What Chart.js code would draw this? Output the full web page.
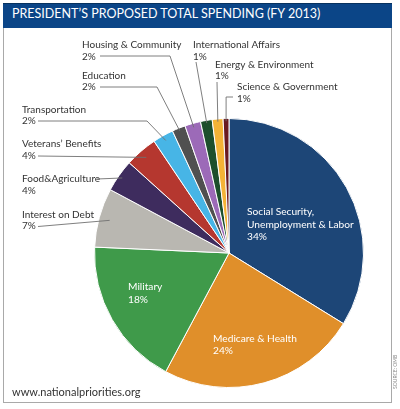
<!DOCTYPE html>
<html>
<head>
<meta charset="utf-8">
<script src="https://cdn.jsdelivr.net/npm/chart.js@4.4.1/dist/chart.umd.min.js"></script>
<style>
    body { margin: 0; background: #fff; font-family: Lato, "Open Sans", sans-serif; }
    #quadro { position: relative; width: 400px; height: 409px; overflow: hidden; }
    #barra {
        position: absolute; left: 3px; top: 3px; width: 389px; height: 25px;
        background: #0b4587; border-top: 1px solid #07325f; box-sizing: border-box;
    }
    #titulo {
        position: absolute; left: 12px; top: 5px; color: #fff;
        font-size: 12.5px; line-height: 18px; white-space: nowrap;
    }
    #moldura {
        position: absolute; left: 3px; top: 28px; width: 389px; height: 375px;
        border: 1.5px solid #a9a9a9; border-top: none; box-sizing: border-box;
    }
    #site {
        position: absolute; left: 12px; top: 385px; color: #333;
        font-size: 11px; line-height: 13px; white-space: nowrap;
    }
    #fonte {
        position: absolute; left: 381px; top: 372px; width: 28px; height: 6px;
        color: #8a8a8a; font-size: 5px; line-height: 6px; white-space: nowrap;
        text-align: center; transform: rotate(-90deg);
    }
    #grafico { position: absolute; left: 0; top: 0; }
</style>
</head>
<body>
<div id="quadro">
    <div id="moldura"></div>
    <div id="barra"></div>
    <div id="titulo">PRESIDENT’S PROPOSED TOTAL SPENDING (FY 2013)</div>
    <canvas id="grafico" width="400" height="409"></canvas>
    <div id="site">www.nationalpriorities.org</div>
    <div id="fonte">SOURCE: OMB</div>
</div>

<script>
// Dados (sentido horário a partir do topo)
var categorias = [
    "Social Security,\nUnemployment & Labor",
    "Medicare & Health",
    "Military",
    "Interest on Debt",
    "Food&Agriculture",
    "Veterans’ Benefits",
    "Transportation",
    "Education",
    "Housing & Community",
    "International Affairs",
    "Energy & Environment",
    "Science & Government"
];
var valores = [33.8, 24.0, 17.9, 7.1, 3.9, 3.9, 2.5, 1.6, 1.9, 1.4, 1.3, 0.7];
var percentuais = ["34%", "24%", "18%", "7%", "4%", "4%", "2%", "2%", "2%", "1%", "1%", "1%"];

var cores = [
    "#1d4677", "#e08f2a", "#3f9a4a", "#b9b7b1", "#3e2c5e", "#b5372f",
    "#47b5e6", "#505050", "#9c6ab8", "#1d4f2c", "#f4b336", "#6a1a20"
];

// Posição dos rótulos externos e das linhas-guia
// x,y = primeira linha do texto; lx,ly = início da linha; cx = cotovelo; f = fração do raio
var externos = [
    { i: 3,  x: 22,  y: 217.7, lx: 38,  ly: 226.5, f: 0.92 },
    { i: 4,  x: 22,  y: 182.3, lx: 97,  ly: 179,   f: 0.97 },
    { i: 5,  x: 22,  y: 147.3, lx: 38,  ly: 156,   f: 0.94 },
    { i: 6,  x: 22,  y: 112.7, lx: 38,  ly: 121,   cx: 147, f: 0.96 },
    { i: 7,  x: 82,  y: 78.5,  lx: 100, ly: 87,    cx: 157, f: 0.98 },
    { i: 8,  x: 82,  y: 48.3,  lx: 100, ly: 56,    cx: 170, f: 0.97 },
    { i: 9,  x: 193, y: 48.3,  lx: 196, ly: 62,    f: 0.98 },
    { i: 10, x: 215, y: 67.7,  lx: 217, ly: 82,    f: 0.98 },
    { i: 11, x: 237, y: 90.3,  lx: 233, ly: 97,    canto: true, f: 0.98 }
];
var internos = [
    { i: 0, x: 247, y: 215 },
    { i: 1, x: 213, y: 341.7 },
    { i: 2, x: 128, y: 290 }
];

var rotulosPlugin = {
    id: "rotulos",
    afterDatasetsDraw: function (chart) {
        var ctx = chart.ctx;
        var arcos = chart.getDatasetMeta(0).data;
        ctx.save();
        ctx.textBaseline = "alphabetic";
        ctx.textAlign = "left";

        externos.forEach(function (r) {
            var a = arcos[r.i];
            var meio = (a.startAngle + a.endAngle) / 2;
            var raio = a.outerRadius * r.f;
            var px = a.x + Math.cos(meio) * raio;
            var py = a.y + Math.sin(meio) * raio;

            ctx.strokeStyle = "#707070";
            ctx.lineWidth = 0.9;
            ctx.beginPath();
            ctx.moveTo(r.lx, r.ly);
            if (r.cx !== undefined) ctx.lineTo(r.cx, r.ly);
            if (r.canto) ctx.lineTo(px, r.ly);
            ctx.lineTo(px, py);
            ctx.stroke();

            ctx.font = "10px Lato";
            ctx.fillStyle = "#333";
            ctx.fillText(categorias[r.i], r.x, r.y);
            ctx.fillText(percentuais[r.i], r.x, r.y + 11.7);
        });

        ctx.font = "10.2px Lato";
        ctx.fillStyle = "#fff";
        internos.forEach(function (r) {
            var linhas = categorias[r.i].split("\n");
            linhas.push(percentuais[r.i]);
            linhas.forEach(function (t, k) {
                ctx.fillText(t, r.x, r.y + k * 12.5);
            });
        });
        ctx.restore();
    }
};

new Chart(document.getElementById("grafico"), {
    type: "pie",
    data: {
        labels: categorias,
        datasets: [{
            data: valores,
            backgroundColor: cores,
            borderColor: "#ffffff",
            borderWidth: 1
        }]
    },
    options: {
        responsive: false,
        animation: false,
        layout: { padding: { left: 94, right: 36, top: 118, bottom: 21 } },
        plugins: {
            legend: { display: false },
            tooltip: { enabled: false }
        }
    },
    plugins: [rotulosPlugin]
});
</script>
</body>
</html>
